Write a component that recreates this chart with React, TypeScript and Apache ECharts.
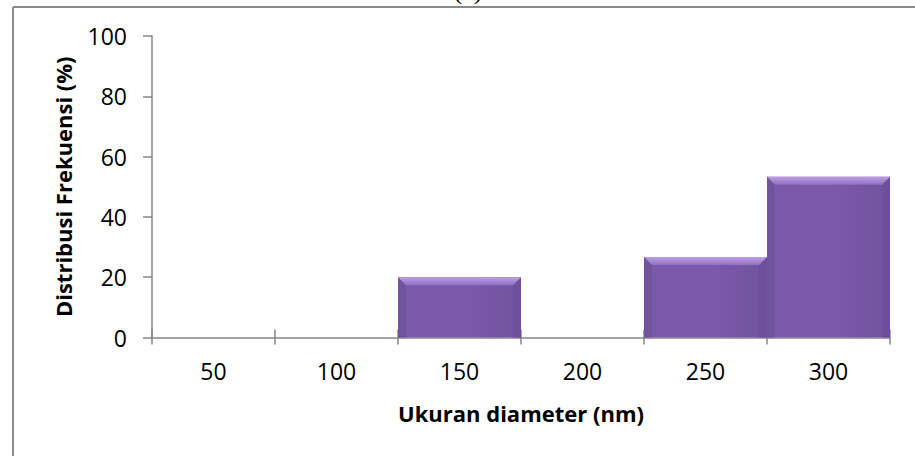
import React, { useEffect, useRef } from "react";
import * as echarts from "echarts";

const categories = ["50", "100", "150", "200", "250", "300"];
const frequency = [0, 0, 20, 0, 26.67, 53.33];
const yTicks = { min: 0, max: 100, interval: 20 };
const xTitle = "Ukuran diameter (nm)";
const yTitle = "Distribusi Frekuensi (%)";
const panelLabel = "(a)";

const FONT = "'Open Sans', 'Liberation Sans', sans-serif";
const AXIS_COLOR = "#868686";

export default function App() {
  const ref = useRef<HTMLDivElement>(null);
  useEffect(() => {
    if (!ref.current) return;
    const chart = echarts.init(ref.current, null, { renderer: "svg" });
    const renderItem = (params: any, api: any) => {
      const idx = api.value(0);
      const v = api.value(1);
      if (!v) return { type: "group", children: [] };
      const top = api.coord([idx, v]);
      const base = api.coord([idx, 0]);
      const bw = api.size([1, 0])[0];
      const x0 = top[0] - bw / 2;
      const x1 = x0 + bw;
      const y0 = top[1];
      const y1 = base[1];
      const b = 8;
      return {
        type: "group",
        children: [
          {
            type: "rect",
            shape: { x: x0, y: y0, width: x1 - x0, height: y1 - y0 },
            style: {
              fill: new echarts.graphic.LinearGradient(0, 0, 1, 0, [
                { offset: 0, color: "#7a59a9" },
                { offset: 0.5, color: "#7b5aaa" },
                { offset: 1, color: "#72539f" },
              ]),
            },
          },
          {
            type: "polygon",
            shape: { points: [[x0, y0], [x0 + b, y0 + b], [x0 + b, y1], [x0, y1]] },
            style: { fill: "#7253a0" },
          },
          {
            type: "polygon",
            shape: { points: [[x1, y0], [x1 - b, y0 + b], [x1 - b, y1], [x1, y1]] },
            style: { fill: "#6e4f9b" },
          },
          {
            type: "polygon",
            shape: { points: [[x0, y0], [x1, y0], [x1 - b, y0 + b], [x0 + b, y0 + b]] },
            style: {
              fill: new echarts.graphic.LinearGradient(0, 0, 0, 1, [
                { offset: 0, color: "#bb9ee6" },
                { offset: 1, color: "#8f70c2" },
              ]),
            },
          },
        ],
      };
    };
    chart.setOption({
      animation: false,
      backgroundColor: "#ffffff",
      grid: { left: 152, right: 25, top: 36, bottom: 118.5, containLabel: false },
      graphic: [
        {
          type: "line",
          shape: { x1: 13, y1: 7, x2: 915, y2: 7 },
          style: { stroke: "#8a8a8a", lineWidth: 2 },
        },
        {
          type: "line",
          shape: { x1: 13, y1: 7, x2: 13, y2: 456 },
          style: { stroke: "#8a8a8a", lineWidth: 2 },
        },
        {
          type: "text",
          x: 468,
          y: -23,
          style: {
            text: panelLabel,
            fontFamily: "'Liberation Serif', serif",
            fontSize: 26,
            fill: "#000",
            textAlign: "center",
          },
        },
      ],
      xAxis: [
        {
          type: "category",
          data: categories,
          position: "bottom",
          boundaryGap: true,
          axisLine: { show: true, lineStyle: { color: AXIS_COLOR, width: 1.5 } },
          axisTick: { show: true, length: 7, lineStyle: { color: AXIS_COLOR, width: 1.5 } },
          axisLabel: { color: "#000", fontFamily: FONT, fontSize: 23, margin: 22 },
          splitLine: { show: false },
          name: xTitle,
          nameLocation: "middle",
          nameGap: 64,
          nameTextStyle: { color: "#000", fontFamily: FONT, fontSize: 22, fontWeight: "bold" },
        },
        {
          type: "category",
          data: categories,
          position: "bottom",
          boundaryGap: true,
          axisLine: { show: false },
          axisTick: { show: true, inside: true, length: 8, lineStyle: { color: AXIS_COLOR, width: 1.5 } },
          axisLabel: { show: false },
          splitLine: { show: false },
        },
      ],
      yAxis: {
        type: "value",
        min: yTicks.min,
        max: yTicks.max,
        interval: yTicks.interval,
        axisLine: { show: true, lineStyle: { color: AXIS_COLOR, width: 1.5 } },
        axisTick: { show: true, length: 9, lineStyle: { color: AXIS_COLOR, width: 1.5 } },
        axisLabel: { color: "#000", fontFamily: FONT, fontSize: 23, margin: 25 },
        splitLine: { show: false },
        name: yTitle,
        nameLocation: "middle",
        nameGap: 78,
        nameRotate: 90,
        nameTextStyle: { color: "#000", fontFamily: FONT, fontSize: 22, fontWeight: "bold" },
      },
      series: [
        {
          type: "custom",
          xAxisIndex: 0,
          yAxisIndex: 0,
          renderItem,
          data: frequency.map((v, i) => [i, v]),
        },
      ],
    });
    return () => chart.dispose();
  }, []);
  return (
    <div
      ref={ref}
      style={{ position: "fixed", left: 0, top: 0, width: 915, height: 456, background: "#fff" }}
    />
  );
}
